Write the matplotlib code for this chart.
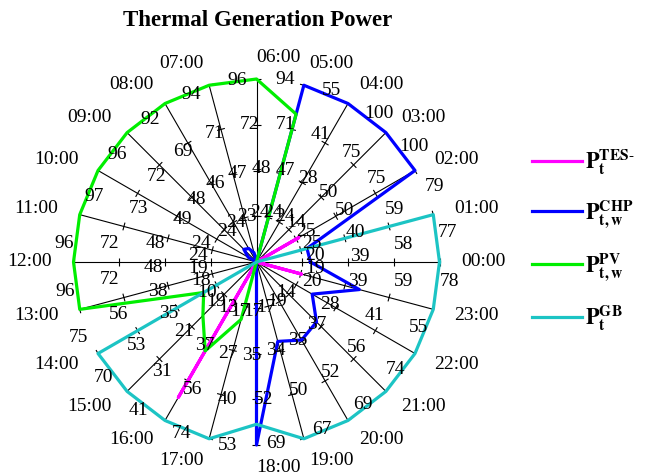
import numpy as np
import matplotlib
matplotlib.use("Agg")
import matplotlib.pyplot as plt
from matplotlib.collections import LineCollection

plt.rcParams["font.family"] = ["Liberation Serif", "DejaVu Serif"]
plt.rcParams["mathtext.fontset"] = "stix"

# Hours of the day, one spoke each (00:00 at the right, counter-clockwise)
hours = ["00:00", "01:00", "02:00", "03:00", "04:00", "05:00",
         "06:00", "07:00", "08:00", "09:00", "10:00", "11:00",
         "12:00", "13:00", "14:00", "15:00", "16:00", "17:00",
         "18:00", "19:00", "20:00", "21:00", "22:00", "23:00"]

# Thermal output of each unit per hour
p_tes = [0, 0, 21, 0, 0, 0, 0, 0, 0, 0, 0, 0,
         0, 0, 0, 0, 35, 0, 0, 0, 0, 0, 0, 14]
p_chp = [23, 22, 79, 100, 100, 55, 0, 5, 8, 9, 5, 0,
         0, 0, 0, 0, 0, 0, 53, 31, 33, 32, 26, 32]
p_pv = [0, 0, 0, 0, 0, 46, 94, 96, 94, 92, 96, 97,
        96, 96, 25, 29, 23, 24, 0, 0, 0, 0, 0, 0]
p_gb = [78, 77, 0, 0, 0, 0, 0, 0, 0, 0, 0, 0,
        0, 0, 75, 70, 41, 74, 47, 69, 67, 69, 74, 55]

series = [
    (p_tes, "#ff00ff", r"$\mathbf{P}_{\mathbf{t}}^{\mathbf{TES\text{-}}}$"),
    (p_chp, "#0000ff", r"$\mathbf{P}_{\mathbf{t,w}}^{\mathbf{CHP}}$"),
    (p_pv, "#00ee00", r"$\mathbf{P}_{\mathbf{t,w}}^{\mathbf{PV}}$"),
    (p_gb, "#1cc4c4", r"$\mathbf{P}_{\mathbf{t}}^{\mathbf{GB}}$"),
]

W, H = 651, 472
CX, CY = 256.5, 262.0      # plot centre in pixels (from top-left)
RPX = 183.0                # spoke length in pixels
PX = 1.0 / RPX             # one pixel in data units

fig = plt.figure(figsize=(W / 100, H / 100), dpi=100)
ax = fig.add_axes([0, 0, 1, 1])
ax.set_xlim(-CX * PX, (W - CX) * PX)
ax.set_ylim(-(H - CY) * PX, CY * PX)
ax.axis("off")

n = len(hours)
theta = np.deg2rad(np.arange(n) * 360.0 / n)
spoke_max = np.max(np.array([s[0] for s in series], dtype=float), axis=0)

# Spokes with their own scales
spokes, ticks = [], []
for i in range(n):
    c, s = np.cos(theta[i]), np.sin(theta[i])
    spokes.append([(0, 0), (c, s)])
    px, py = s, -c  # clockwise normal
    deg = np.rad2deg(theta[i])
    for k in range(1, 5):
        f = k / 4.0
        bx, by = f * c, f * s
        ticks.append([(bx - 4 * PX * px, by - 4 * PX * py),
                      (bx + 4 * PX * px, by + 4 * PX * py)])
        val = int(np.floor(spoke_max[i] * f + 0.5))
        ax.text(bx + 19 * PX * px, by + 19 * PX * py, str(val),
                ha="left" if deg < 180 else "right", va="center",
                fontsize=14, color="black", zorder=5)
    ha = "left" if (deg <= 90 or deg >= 270) else "right"
    ax.text((1 + 22 * PX) * c, (1 + 22 * PX) * s, hours[i],
            ha=ha, va="center", fontsize=14, color="black", zorder=5)

ax.add_collection(LineCollection(spokes, colors="black", linewidths=0.8, zorder=1))
ax.add_collection(LineCollection(ticks, colors="black", linewidths=0.8, zorder=1))

handles = []
for vals, color, label in series:
    r = np.array(vals, dtype=float) / spoke_max
    x = np.append(r * np.cos(theta), r[0] * np.cos(theta[0]))
    y = np.append(r * np.sin(theta), r[0] * np.sin(theta[0]))
    ln, = ax.plot(x, y, color=color, lw=2.3, label=label, zorder=3,
                  solid_joinstyle="round")
    handles.append(ln)

ax.legend(handles=handles, loc="upper left",
          bbox_to_anchor=(532 / W, 1 - 148 / H), frameon=False,
          fontsize=16, handlelength=2.25, handletextpad=0.15,
          borderpad=0, borderaxespad=0, labelspacing=0.95)

fig.text(258 / W, 1 - 20 / H, "Thermal Generation Power",
         ha="center", va="center", fontsize=16.5, fontweight="bold")

fig.savefig("out.png", dpi=100)
